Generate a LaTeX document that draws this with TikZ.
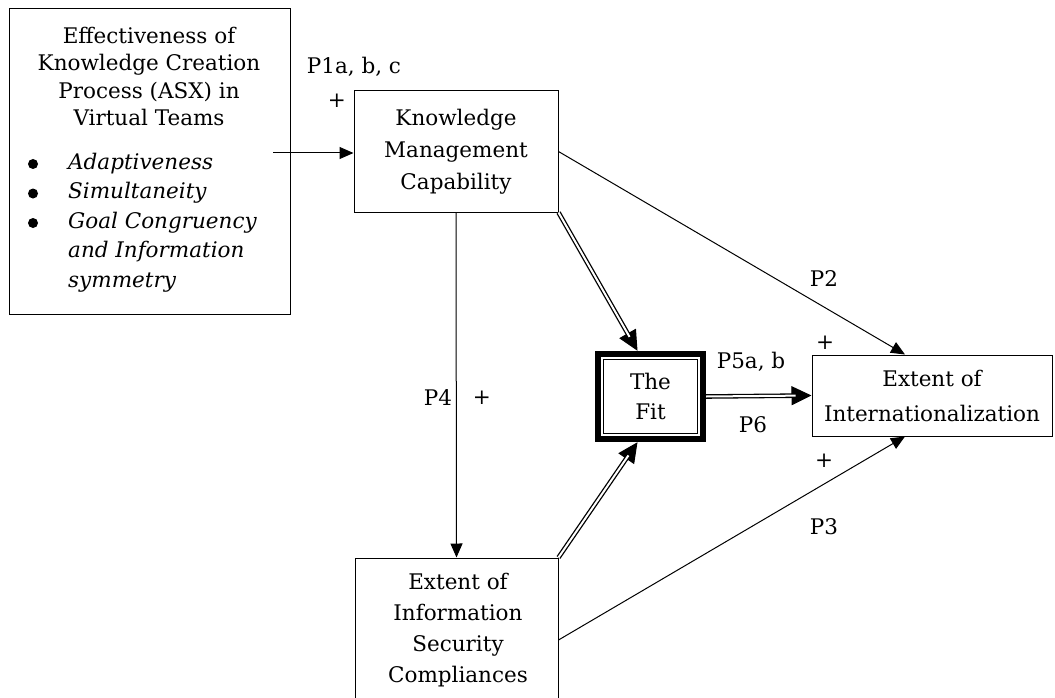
\documentclass[tikz,border=0pt]{standalone}
\usepackage{fontspec}
\setmainfont{DejaVu Serif}
\usetikzlibrary{arrows.meta}
\begin{document}
\begin{tikzpicture}[x=1pt,y=-1pt,
  box/.style={draw, line width=1pt, inner sep=0pt},
  txt/.style={align=center, inner sep=0pt},
  arr/.style={line width=1pt, -{Triangle[length=14pt,width=12pt]}},
  tiparr/.style={line width=1pt, -{Triangle[length=20pt,width=19pt]}},
  dbl/.style={double, line width=1.3pt, double distance=2pt, shorten >=16pt},
  bullet/.style={circle, fill, inner sep=0pt, minimum size=10pt},
  lbl/.style={inner sep=0pt, font=\fontsize{21.5}{24}\selectfont}]
\useasboundingbox (0,0) rectangle (1055,698);
\clip (0,0) rectangle (1055,698);

% left box
\node[box, minimum width=281pt, minimum height=305pt] (asx) at (149.5,161.5) {};
\node[txt, font=\fontsize{21.5}{27.5}\selectfont] (asxt) at (149,76.5)
  {Effectiveness of\\Knowledge Creation\\Process (ASX) in\\Virtual Teams};
\node[bullet] (b1) at (33,164) {};
\node[bullet] (b2) at (33,193.5) {};
\node[bullet] (b3) at (33,223) {};
\node[inner sep=0pt, align=left, anchor=west, font=\fontsize{21.5}{29.5}\selectfont\itshape] (asxl) at (68,222.5)
  {Adaptiveness\\Simultaneity\\Goal Congruency\\and Information\\symmetry};

% knowledge management capability
\node[box, txt, minimum width=204pt, minimum height=121pt, font=\fontsize{21.5}{32}\selectfont] (kmc) at (456,151.5)
  {Knowledge\\Management\\Capability};

% the fit
\node[txt, minimum width=111pt, minimum height=91pt, font=\fontsize{21.5}{30}\selectfont] (fit) at (650.5,396.5) {The\\Fit};
\draw[line width=6pt] ([shift={(3,3)}]fit.north west) rectangle ([shift={(-3,-3)}]fit.south east);
\draw[line width=1pt] ([shift={(9,9)}]fit.north west) rectangle ([shift={(-9,-9)}]fit.south east);

% extent of internationalization
\node[box, txt, minimum width=240pt, minimum height=81pt, font=\fontsize{21.5}{35}\selectfont] (eoi) at (932,395.5)
  {Extent of\\Internationalization};

% extent of information security compliances
\node[box, minimum width=203pt, minimum height=164pt] (isc) at (456.5,640) {};
\node[txt, font=\fontsize{21.5}{31}\selectfont] (isct) at (458,630)
  {Extent of\\Information\\Security\\Compliances};

% connectors
\coordinate (a0) at (273,153);
\draw[arr] (a0) -- (a0 -| kmc.west);
\draw[arr] (kmc.south) -- (isc.north);
\draw[arr] (kmc.east) -- ([shift={(-27,0)}]eoi.north);
\draw[arr] (isc.east) -- ([shift={(-27,0)}]eoi.south);

\draw[tiparr] (kmc.south east) -- ([shift={(-13,0)}]fit.north);
\draw[dbl] (kmc.south east) -- ([shift={(-13,0)}]fit.north);
\draw[tiparr] (isc.north east) -- ([shift={(-13,0)}]fit.south);
\draw[dbl] (isc.north east) -- ([shift={(-13,0)}]fit.south);
\draw[tiparr] (fit.east) -- (eoi.west);
\draw[dbl] (fit.east) -- (eoi.west);

% labels
\node[lbl] (l1) at (354,67) {P1a, b, c};
\node[lbl] (p1) at (337,101) {+};
\node[lbl] (l4) at (438,398) {P4};
\node[lbl] (p4) at (482,398) {+};
\node[lbl] (l2) at (824,279) {P2};
\node[lbl] (p2) at (825,343) {+};
\node[lbl] (l5) at (751,362) {P5a, b};
\node[lbl] (l6) at (753,425) {P6};
\node[lbl] (p3) at (824,461) {+};
\node[lbl] (l3) at (824,527) {P3};
\end{tikzpicture}
\end{document}
